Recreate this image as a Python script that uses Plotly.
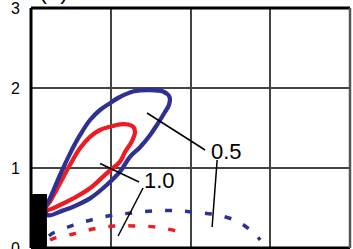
import plotly.graph_objects as go

# Solid loops (blue = 0.5, red = 1.0)
blue_loop_x = [0.176, 0.238, 0.364, 0.489, 0.614, 0.74, 0.865, 0.991, 1.091, 1.279, 1.492, 1.655, 1.737,
               1.73, 1.68, 1.58, 1.492, 1.367, 1.241, 1.116, 0.949, 0.74, 0.552, 0.405, 0.213, 0.176]
blue_loop_y = [0.50, 0.62, 0.9125, 1.18, 1.41, 1.60, 1.725, 1.81, 1.875, 1.956, 1.975, 1.956, 1.8875,
               1.79, 1.70, 1.54, 1.41, 1.26, 1.14, 0.954, 0.7875, 0.62, 0.525, 0.47, 0.41, 0.50]

red_loop_x = [0.188, 0.238, 0.364, 0.489, 0.614, 0.74, 0.865, 0.991, 1.116, 1.216, 1.285, 1.304, 1.263,
              1.179, 1.116, 0.949, 0.74, 0.53, 0.364, 0.2, 0.188]
red_loop_y = [0.51, 0.58, 0.81, 1.04, 1.246, 1.39, 1.475, 1.516, 1.546, 1.544, 1.5125, 1.45, 1.33,
              1.20, 1.079, 0.934, 0.746, 0.62, 0.5375, 0.475, 0.51]

# Dashed curves
blue_dash_x = [0.226, 0.272, 0.523, 0.782, 1.041, 1.296, 1.556, 1.811, 2.067, 2.33, 2.60, 2.83, 2.873]
blue_dash_y = [0.15, 0.184, 0.284, 0.359, 0.4125, 0.441, 0.466, 0.466, 0.446, 0.4125, 0.329, 0.154, 0.10]

red_dash_x = [0.238, 0.289, 0.531, 0.794, 1.041, 1.292, 1.56, 1.84, 1.907]
red_dash_y = [0.10, 0.121, 0.175, 0.241, 0.275, 0.275, 0.2625, 0.204, 0.1625]

# Black block at the origin
block_x = [0.0, 0.20]
block_y = [0.0, 0.675]

# Leader lines and labels
leader_05_x = [1.455, 2.183, None, 2.334, 2.271]
leader_05_y = [1.6875, 1.225, None, 1.10, 0.2625]
leader_10_x = [0.866, 1.355, None, 1.405, 1.092]
leader_10_y = [1.056, 0.825, None, 0.75, 0.15]
labels = ["0.5", "1.0"]
label_x = [2.447, 1.606]
label_y = [1.2125, 0.85]

y_ticks = [0, 1, 2, 3]
x_grid = [0, 1, 2, 3, 4]

BLUE = "#2e3192"
RED = "#ed1c24"

fig = go.Figure()
fig.add_trace(go.Scatter(x=red_loop_x, y=red_loop_y, mode="lines",
                         line=dict(color=RED, width=4.3, shape="spline", smoothing=1.0)))
fig.add_trace(go.Scatter(x=blue_loop_x, y=blue_loop_y, mode="lines",
                         line=dict(color=BLUE, width=4.3, shape="spline", smoothing=1.0)))
fig.add_trace(go.Scatter(x=blue_dash_x, y=blue_dash_y, mode="lines",
                         line=dict(color=BLUE, width=3.5, dash="7px,13px", shape="spline")))
fig.add_trace(go.Scatter(x=red_dash_x, y=red_dash_y, mode="lines",
                         line=dict(color=RED, width=3.5, dash="7px,13px", shape="spline")))
fig.add_trace(go.Scatter(x=leader_05_x, y=leader_05_y, mode="lines",
                         line=dict(color="black", width=1.5)))
fig.add_trace(go.Scatter(x=leader_10_x, y=leader_10_y, mode="lines",
                         line=dict(color="black", width=1.5)))

for t, x, y in zip(labels, label_x, label_y):
    fig.add_annotation(x=x, y=y, text=t, showarrow=False,
                       font=dict(family="Liberation Sans, Arial", size=22, color="black"),
                       bgcolor="rgba(0,0,0,0)")

fig.add_shape(type="rect", x0=block_x[0], x1=block_x[1], y0=block_y[0], y1=block_y[1],
              fillcolor="black", line=dict(width=0), layer="above")

# frame
fig.add_shape(type="line", xref="paper", yref="paper", x0=0, x1=1, y0=1, y1=1,
              line=dict(color="black", width=3), layer="above")
fig.add_shape(type="line", xref="paper", yref="paper", x0=0, x1=1, y0=0, y1=0,
              line=dict(color="black", width=3), layer="above")
fig.add_shape(type="line", xref="paper", yref="paper", x0=0, x1=0, y0=0, y1=1,
              line=dict(color="black", width=3), layer="above")
fig.add_shape(type="line", xref="paper", yref="paper", x0=1, x1=1, y0=0, y1=1,
              line=dict(color="#555555", width=2.5), layer="above")

fig.add_annotation(xref="paper", yref="paper", x=0.07, y=1.0, yshift=2,
                   xanchor="center", yanchor="bottom", text="(b)", showarrow=False,
                   font=dict(family="Liberation Sans, Arial", size=24, color="black"))

fig.update_layout(
    width=353, height=249,
    margin=dict(l=31, r=3, t=8, b=1, autoexpand=False),
    paper_bgcolor="white", plot_bgcolor="white",
    showlegend=False,
    xaxis=dict(range=[0, 4], tickvals=x_grid, showticklabels=False, showgrid=True,
               gridcolor="#444444", gridwidth=1.5, zeroline=False, ticks="", automargin=False),
    yaxis=dict(range=[0, 3], tickvals=y_ticks, showgrid=True, gridcolor="#444444",
               gridwidth=1.5, zeroline=False, ticks="", ticklabelstandoff=10,
               automargin=False, ticklabeloverflow="allow",
               tickfont=dict(family="Liberation Sans, Arial", size=16, color="black")),
)

fig.write_html("out.html", config={"displayModeBar": False},
               post_script="document.body.style.margin='0';document.body.style.overflow='hidden';")
